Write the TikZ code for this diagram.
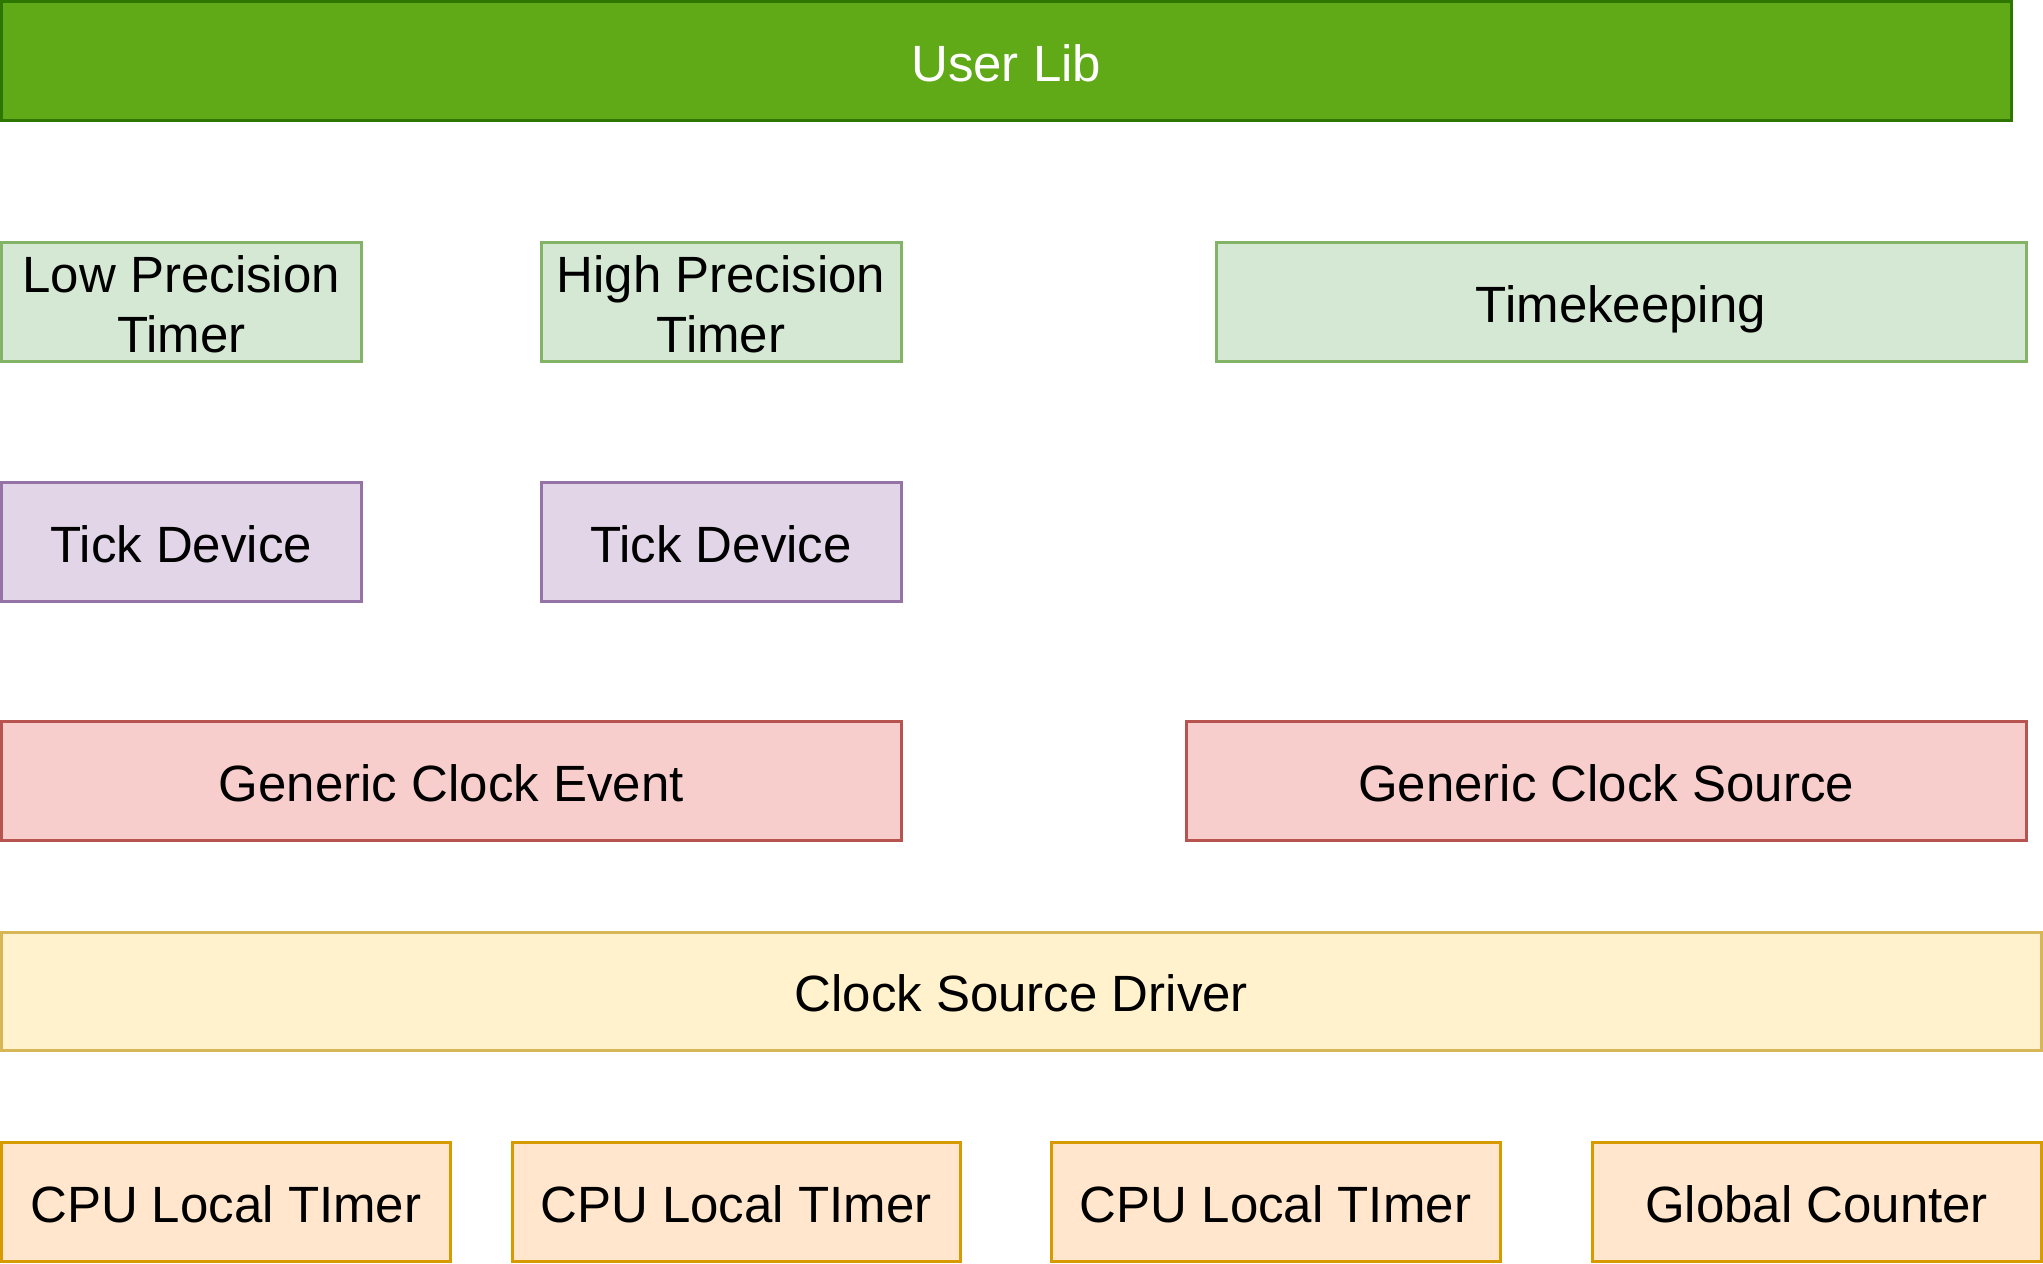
\documentclass[tikz,border=0pt]{standalone}
\usepackage{fontspec}
\setmainfont{Liberation Sans}
\definecolor{ulfill}{HTML}{60A917}
\definecolor{uldraw}{HTML}{2D7600}
\definecolor{gfill}{HTML}{D5E8D4}
\definecolor{gdraw}{HTML}{82B366}
\definecolor{pfill}{HTML}{E1D5E7}
\definecolor{pdraw}{HTML}{9673A6}
\definecolor{rfill}{HTML}{F8CECC}
\definecolor{rdraw}{HTML}{B85450}
\definecolor{yfill}{HTML}{FFF2CC}
\definecolor{ydraw}{HTML}{D6B656}
\definecolor{ofill}{HTML}{FFE6CC}
\definecolor{odraw}{HTML}{D79B00}
\newcommand{\firstlinestrut}{\rule{0pt}{20.8pt}}
\tikzset{
  blk/.style={rectangle, inner sep=0pt, line width=1.5pt, align=center,
    minimum height=59.5pt, font=\fontsize{25.5}{30}\selectfont, text=black},
  oneline/.style={text height=20.8pt, text depth=0pt},
  userbox/.style={blk, oneline, fill=ulfill, draw=uldraw, text=white},
  greenbox/.style={blk, fill=gfill, draw=gdraw},
  purplebox/.style={blk, oneline, fill=pfill, draw=pdraw},
  redbox/.style={blk, oneline, fill=rfill, draw=rdraw},
  yellowbox/.style={blk, oneline, fill=yfill, draw=ydraw},
  orangebox/.style={blk, oneline, fill=ofill, draw=odraw},
}
\begin{document}
\begin{tikzpicture}[x=0.5pt, y=-0.5pt]
\useasboundingbox (0,0) rectangle (2043,1263);
\node[userbox, minimum width=1004.75pt] (userlib) at (1006.25,61) {User Lib};
\node[greenbox, minimum width=179.75pt] (lpt) at (181.25,301.5) {\firstlinestrut Low Precision\\Timer};
\node[greenbox, minimum width=180pt] (hpt) at (721,301.5) {\firstlinestrut High Precision\\Timer};
\node[greenbox, oneline, minimum width=405pt] (tk) at (1621,301.5) {Timekeeping};
\node[purplebox, minimum width=179.75pt] (tick1) at (181.25,541.5) {Tick Device};
\node[purplebox, minimum width=180pt] (tick2) at (721,541.5) {Tick Device};
\node[redbox, minimum width=449.75pt] (gce) at (451.25,780.5) {Generic Clock Event};
\node[redbox, minimum width=420pt] (gcs) at (1606,780.5) {Generic Clock Source};
\node[yellowbox, minimum width=1019.75pt, minimum height=59pt] (csd) at (1021.25,991) {Clock Source Driver};
\node[orangebox, minimum width=224.25pt, minimum height=59.75pt] (cpu1) at (225.75,1201.75) {CPU Local TImer};
\node[orangebox, minimum width=224pt, minimum height=59.75pt] (cpu2) at (736,1201.75) {CPU Local TImer};
\node[orangebox, minimum width=224.5pt, minimum height=59.75pt] (cpu3) at (1275.5,1201.75) {CPU Local TImer};
\node[orangebox, minimum width=224.5pt, minimum height=59.75pt] (gc) at (1816.5,1201.75) {Global Counter};
\end{tikzpicture}
\end{document}
